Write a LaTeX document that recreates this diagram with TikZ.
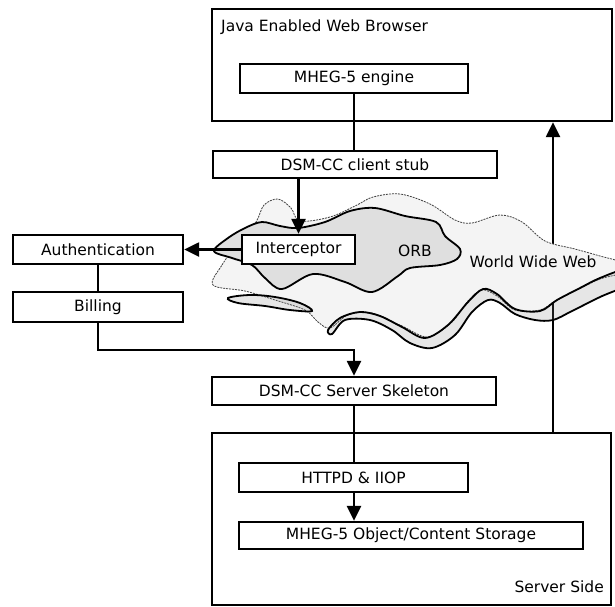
\documentclass[tikz,border=0pt]{standalone}
\usepackage{fontspec}
\setmainfont{DejaVu Sans}
\usetikzlibrary{arrows.meta}
\pgfdeclarelayer{back}
\pgfdeclarelayer{cloud}
\pgfsetlayers{back,cloud,main}
\begin{document}
\begin{tikzpicture}[x=1pt,y=-1pt,
  every node/.style={font=\fontsize{15.5}{18}\selectfont},
  box/.style={draw, line width=2.3pt, fill=white, inner sep=0pt, minimum width=#1},
  frame/.style={draw, line width=2.3pt, inner sep=0pt},
  link/.style={line width=2.3pt},
  flow/.style={line width=2.3pt, -{Triangle[width=14pt,length=15pt]}},
  wwwcloud/.style={fill=gray!9, draw=black!75, line width=0.8pt, dash pattern=on 2pt off 1pt},
  orbcloud/.style={fill=gray!25, draw=black, line width=1.8pt},
  band/.style={fill=gray, fill opacity=0.2, draw=black, draw opacity=1, line width=1.8pt},
  lbl/.style={inner sep=0pt}
]
\useasboundingbox (0,0) rectangle (615,606);
\clip (0,0) rectangle (615,606);

% outer frames
\node[frame, minimum width=400pt, minimum height=112pt] (browser) at (412,65) {};
\node[frame, minimum width=399pt, minimum height=172pt] (server) at (411.5,519) {};
\node[lbl, anchor=west] (browsertitle) at (221,27) {Java Enabled Web Browser};
\node[lbl, anchor=east] (servertitle) at (604,587) {Server Side};

% component boxes
\node[box=228pt, minimum height=29pt] (engine) at (354,78.5) {MHEG-5 engine};
\node[box=284pt, minimum height=27pt] (stub) at (355,164.5) {DSM-CC client stub};
\node[box=113pt, minimum height=29pt] (icpt) at (298.5,249.5) {Interceptor};
\node[box=170pt, minimum height=29pt] (auth) at (98,249.5) {Authentication};
\node[box=170pt, minimum height=30pt] (bill) at (98,307) {Billing};
\node[box=284pt, minimum height=28pt] (skel) at (354,391) {DSM-CC Server Skeleton};
\node[box=229pt, minimum height=29pt] (httpd) at (353.5,477.5) {HTTPD \& IIOP};
\node[box=344pt, minimum height=27pt] (store) at (411,535.5) {MHEG-5 Object/Content Storage};

% path from the server back to the browser, partly hidden by the web cloud
\coordinate (webx) at (553,0);
\begin{pgfonlayer}{back}
\draw[flow] (server.north -| webx) -- (browser.south -| webx);
\end{pgfonlayer}

% the network cloud: World Wide Web with the ORB inside it
\begin{pgfonlayer}{cloud}
\draw[wwwcloud] plot[smooth cycle, tension=0.55] coordinates {
  (213,285) (222,265) (240,240) (256,222) (264,205) (278,199) (291,208)
  (300,221) (330,217) (357,205) (373,197) (400,194) (430,204) (455,220)
  (472,223) (500,215) (522,222) (545,241) (575,249) (600,256) (620,262)
  (625,272) (600,279) (575,291) (555,301) (540,310) (515,310) (497,296)
  (482,290) (468,301) (452,322) (428,337) (402,326) (372,313) (348,315)
  (330,328) (318,322) (305,310) (275,300) (245,291)};
\draw[orbcloud] plot[smooth cycle, tension=0.55] coordinates {
  (214,251) (228,238) (245,228) (262,222) (280,226) (298,228) (325,222)
  (350,211) (375,208) (405,216) (436,222) (445,236) (460,249) (457,259)
  (440,265) (410,268) (398,276) (372,292) (345,282) (313,274) (282,289)
  (265,278) (252,265) (232,258)};
\draw[band] plot[smooth cycle, tension=0.55] coordinates {
  (328,330) (340,318) (360,312) (380,316) (402,327) (425,338) (448,325)
  (468,302) (483,289) (497,294) (515,309) (540,311) (557,300) (580,288)
  (600,278) (625,270) (628,284) (600,297) (572,311) (553,320) (535,320)
  (515,314) (500,303) (488,300) (472,312) (455,335) (432,348) (410,343)
  (392,330) (370,320) (345,320) (332,334)};
\draw[band] plot[smooth cycle, tension=0.6] coordinates {
  (228,298) (250,295) (275,297) (300,303) (312,311) (290,310) (265,306) (238,303)};
\end{pgfonlayer}
\node[lbl] (orb) at (415,251) {ORB};
\node[lbl] (www) at (533,262) {World Wide Web};

% connectors
\draw[link] (engine.south) -- (engine.south |- stub.north);
\draw[flow] (stub.south -| icpt.north) -- (icpt.north);
\draw[flow] (icpt.west) -- (auth.east);
\draw[link] (auth.south) -- (bill.north);
\draw[flow] (bill.south) -- ++(0,27) -| (skel.north);
\draw[link] (skel.south) -- (skel.south |- httpd.north);
\draw[flow] (httpd.south -| skel.south) -- (skel.south |- store.north);
\end{tikzpicture}
\end{document}
